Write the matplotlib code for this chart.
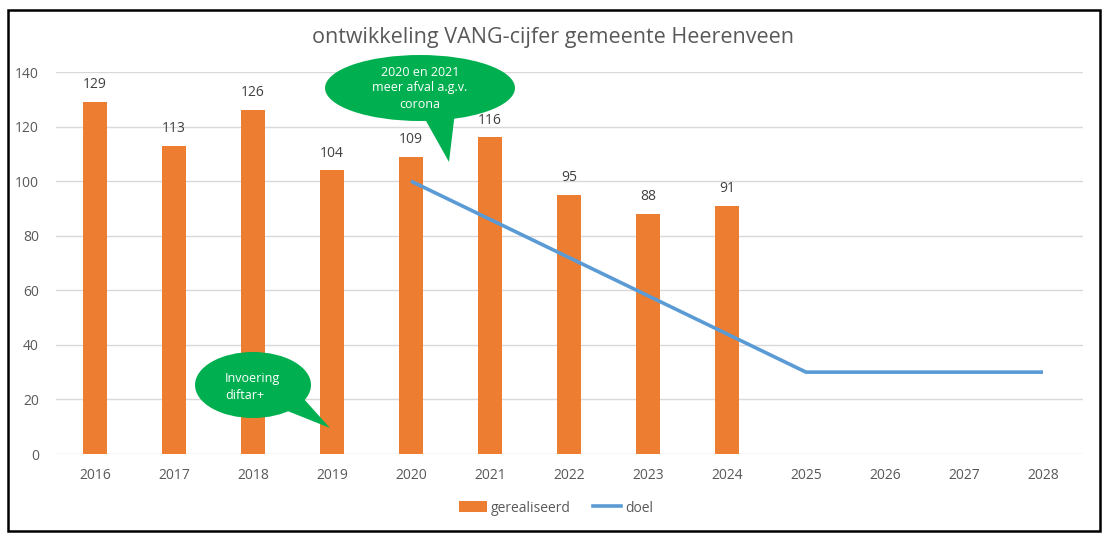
import matplotlib
matplotlib.use("Agg")
import matplotlib.pyplot as plt
from matplotlib.patches import Ellipse, Polygon, Rectangle
from matplotlib.lines import Line2D
from matplotlib.patches import Patch

plt.rcParams['font.family'] = ['Open Sans', 'DejaVu Sans']

years = ['2016', '2017', '2018', '2019', '2020', '2021', '2022',
         '2023', '2024', '2025', '2026', '2027', '2028']
gerealiseerd = [129, 113, 126, 104, 109, 116, 95, 88, 91]
doel_years = ['2020', '2021', '2022', '2023', '2024', '2025', '2026', '2027', '2028']
doel = [100, 86, 72, 58, 44, 30, 30, 30, 30]
yticks = [0, 20, 40, 60, 80, 100, 120, 140]

ORANGE = '#ED7D31'
BLUE = '#5B9BD5'
GREEN = '#00B050'
GRID = '#D9D9D9'
TXT = '#595959'

W, H = 1111, 540
fig = plt.figure(figsize=(W / 100, H / 100), dpi=100)
fig.patch.set_facecolor('white')

def fx(px):
    return px / W

def fy(py):
    return 1 - py / H

ax = fig.add_axes([fx(55.5), fy(454), fx(1082.5) - fx(55.5), fy(72) - fy(454)])
x_all = list(range(len(years)))
xb = [years.index(y) for y in years[:len(gerealiseerd)]]
xd = [years.index(y) for y in doel_years]

ax.bar(xb, gerealiseerd, width=0.3, color=ORANGE, zorder=2, label='gerealiseerd')
ax.plot(xd, doel, color=BLUE, linewidth=2.6, zorder=3, label='doel', solid_capstyle='butt')

for xi, v in zip(xb, gerealiseerd):
    ax.annotate(str(v), (xi, v), xytext=(0, 7), textcoords='offset points',
                ha='center', va='bottom', fontsize=10, color='#404040')

ax.set_xlim(-0.5, len(years) - 0.5)
ax.set_ylim(0, 140)
ax.set_yticks(yticks)
ax.set_xticks(x_all)
ax.set_xticklabels(years)
ax.grid(axis='y', color=GRID, linewidth=1, zorder=0)
ax.set_axisbelow(True)
for s in ax.spines.values():
    s.set_visible(False)
ax.tick_params(axis='both', length=0, colors=TXT, labelsize=10)
ax.tick_params(axis='y', pad=12)
ax.tick_params(axis='x', pad=10)

fig.text(fx(553), fy(37), 'ontwikkeling VANG-cijfer gemeente Heerenveen',
         ha='center', va='center', fontsize=15.5, color=TXT)

# Callout 1
fig.patches.append(Polygon([[fx(421), fy(112)], [fx(449), fy(162)], [fx(455), fy(112)]],
                           closed=True, transform=fig.transFigure, facecolor=GREEN,
                           edgecolor='none', zorder=5))
fig.patches.append(Ellipse((fx(420), fy(88)), fx(190), 66 / H, transform=fig.transFigure,
                           facecolor=GREEN, edgecolor='none', zorder=5))
fig.text(fx(420), fy(88), '2020 en 2021\nmeer afval a.g.v.\ncorona', ha='center', va='center',
         fontsize=9, color='white', linespacing=1.3, zorder=6)

# Callout 2
fig.patches.append(Polygon([[fx(285), fy(410)], [fx(330), fy(428)], [fx(303), fy(398)]],
                           closed=True, transform=fig.transFigure, facecolor=GREEN,
                           edgecolor='none', zorder=5))
fig.patches.append(Ellipse((fx(253), fy(385)), fx(116), 66 / H, transform=fig.transFigure,
                           facecolor=GREEN, edgecolor='none', zorder=5))
fig.text(fx(225), fy(387), 'Invoering\ndiftar+', ha='left', va='center',
         fontsize=9, color='white', linespacing=1.4, zorder=6)

# Legend
handles = [Patch(facecolor=ORANGE, edgecolor='none'),
           Line2D([0], [0], color=BLUE, linewidth=2.6)]
fig.legend(handles, ['gerealiseerd', 'doel'], loc='center', ncol=2,
           bbox_to_anchor=(fx(556), fy(508)), frameon=False, fontsize=10,
           handlelength=2.0, handleheight=0.8, handletextpad=0.3, columnspacing=1.6,
           labelcolor=TXT)

# Outer frame
fig.patches.append(Rectangle((fx(8), fy(531)), fx(1100) - fx(8), fy(10) - fy(531),
                             transform=fig.transFigure, facecolor='none',
                             edgecolor='black', linewidth=1.8, zorder=10))

fig.savefig('out.png', dpi=100)
